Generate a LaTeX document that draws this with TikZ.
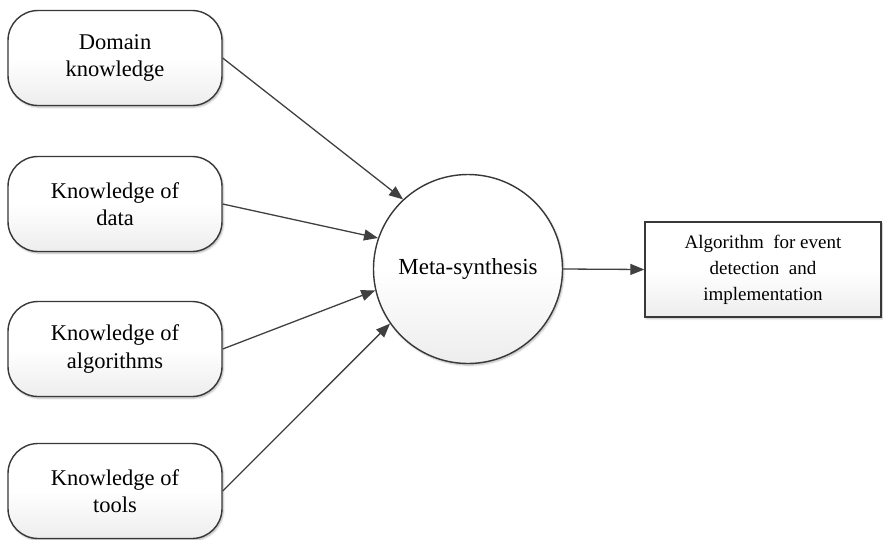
\documentclass[tikz,border=0pt]{standalone}
\usepackage{fontspec}
\setmainfont{Liberation Serif}
\usetikzlibrary{arrows.meta,shadows.blur}

\tikzset{
  outline/.style={draw=black!78, line width=1.4pt},
  softfill/.style={top color=white, bottom color=black!7, middle color=white},
  softshadow/.style={blur shadow={shadow xshift=1.2pt, shadow yshift=-1.6pt, shadow blur steps=6, shadow opacity=30}},
  inbox/.style={outline, softfill, softshadow, rounded corners=30pt,
    minimum width=214pt, minimum height=95pt, inner sep=0pt, align=center,
    font=\fontsize{22.5}{27.5}\selectfont},
  hub/.style={outline, circle, softfill, softshadow, minimum size=189pt, inner sep=0pt,
    font=\fontsize{23}{27}\selectfont},
  outbox/.style={outline, softfill, softshadow, minimum width=236pt, minimum height=95pt,
    inner sep=0pt, align=center, font=\fontsize{19}{26}\selectfont},
  feed/.style={draw=black!75, line width=1.3pt, -{Triangle[length=14pt,width=11pt]}}
}

\begin{document}
\begin{tikzpicture}[x=1pt,y=-1pt]
  \useasboundingbox (0,0) rectangle (883,539);

  % knowledge sources
  \node[inbox] (dom)  at (115,58)  {Domain\\knowledge};
  \node[inbox] (data) at (115,204) {Knowledge of\\data};
  \node[inbox] (alg)  at (115,349) {Knowledge of\\algorithms};
  \node[inbox] (tool) at (115,491) {Knowledge of\\tools};

  % synthesis hub and result
  \node[hub] (meta) at (468,269) {Meta-synthesis};
  \node[outbox] (res) at (763,269.5) {Algorithm\ \ for event\\detection\ \ and\\implementation};

  % connectors
  \draw[feed] (dom.east)  -- (meta.133);
  \draw[feed] (data.east) -- (meta.161);
  \draw[feed] (alg.east)  -- (meta.193);
  \draw[feed] (tool.east) -- (meta.215);
  \draw[feed] (meta.east) -- (res.west);
\end{tikzpicture}
\end{document}
